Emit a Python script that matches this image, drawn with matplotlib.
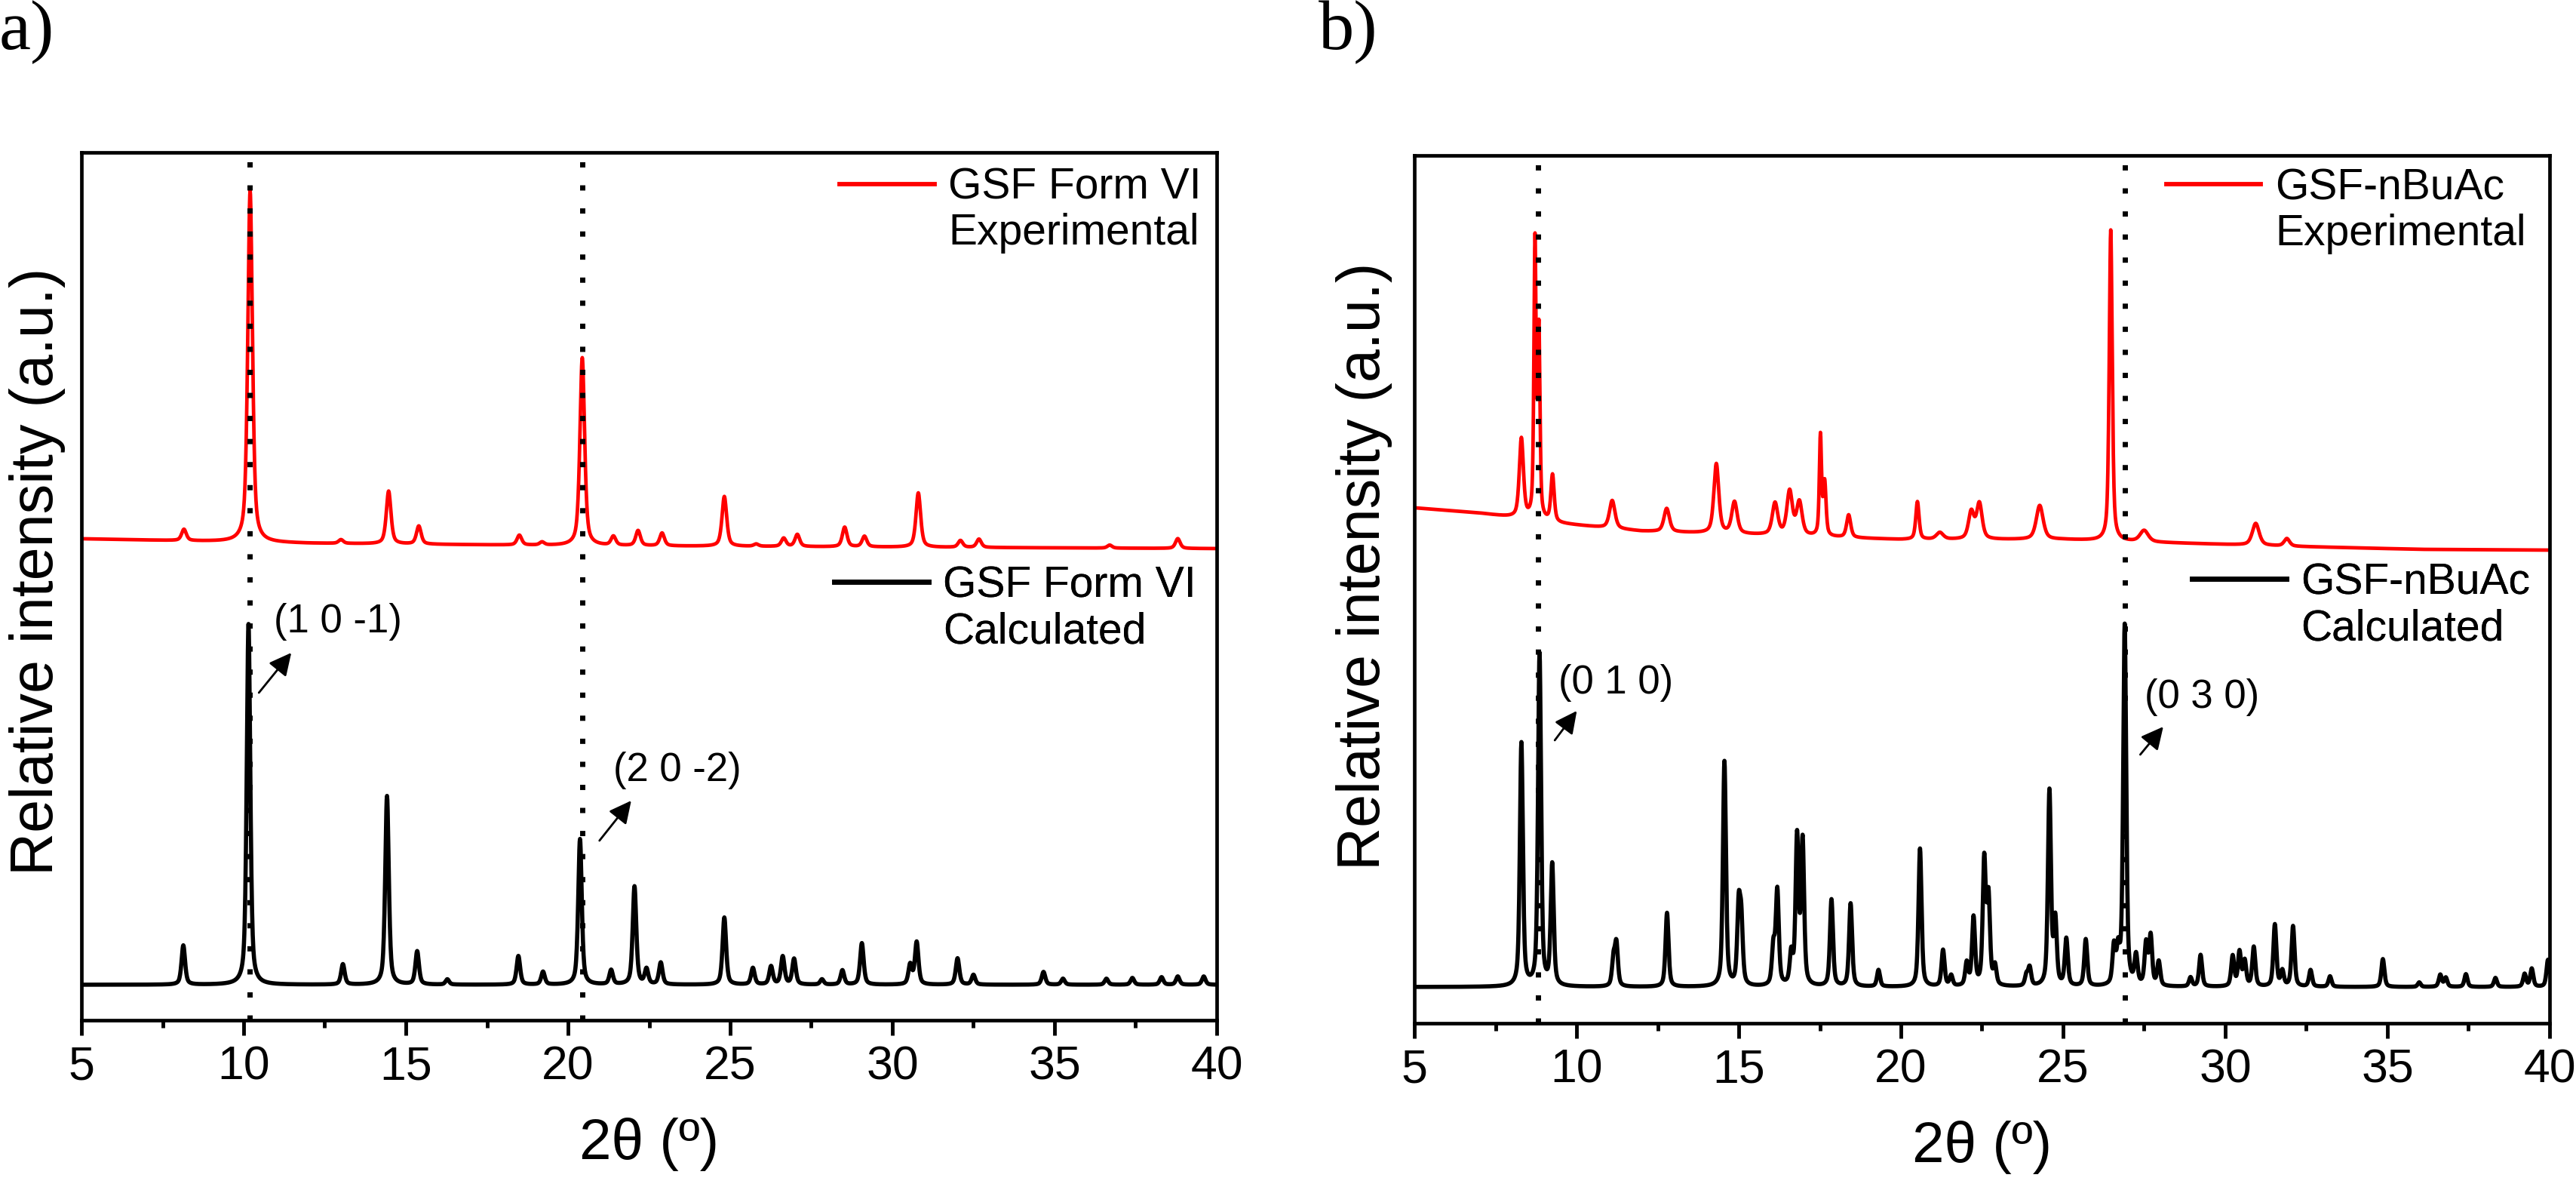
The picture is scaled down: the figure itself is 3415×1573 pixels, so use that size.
import numpy as np
import matplotlib
matplotlib.use("Agg")
import matplotlib.pyplot as plt
from matplotlib.lines import Line2D
from matplotlib.ticker import MultipleLocator

plt.rcParams['font.family'] = ['Liberation Sans', 'DejaVu Sans']

# ---------------------------------------------------------------- data
x_min, x_max = 5, 40
x_major_ticks = [5, 10, 15, 20, 25, 30, 35, 40]

# Panel a : GSF Form VI  (intensity in arbitrary units)
a_calc_baseline = 47
a_calc_pos = [8.14, 10.15, 13.06, 14.42, 15.35, 16.28, 18.47, 19.23, 20.37, 21.33,
              22.05, 22.42, 22.86, 24.82, 25.70, 26.26, 26.62, 26.97, 27.83, 28.46,
              29.06, 30.55, 30.75, 32.01, 32.50, 34.66, 35.26, 36.6, 37.4, 38.3,
              38.8, 39.6]
a_calc_int = [52, 478, 27, 250, 44, 7, 38, 17, 193, 19,
              130, 20, 29, 89, 22, 24, 37, 34, 7, 19,
              55, 26, 56, 35, 13, 17, 8, 8, 9, 10,
              11, 11]
a_calc_fwhm = 0.13

a_exp_bg_x = [5, 12, 20, 30, 40]
a_exp_bg_y = [638, 632, 629, 627, 625]
a_exp_pos = [8.16, 10.20, 13.0, 14.47, 15.40, 18.50, 19.2, 20.44, 21.40, 22.16,
             22.90, 24.82, 25.8, 26.65, 27.07, 28.53, 29.14, 30.80, 32.10, 32.67,
             36.7, 38.80]
a_exp_int = [15, 466, 5, 70, 24, 13, 4, 249, 12, 20,
             17, 66, 3, 11, 16, 26, 14, 72, 9, 11,
             4, 13]
a_exp_fwhm = 0.17

a_ref_lines = [10.19, 20.44]
a_hkl_labels = ["(1 0 -1)", "(2 0 -2)"]
a_hkl_text_xy = [(10.93, 528), (21.40, 331)]
a_hkl_arrow_from = [(10.47, 434), (20.97, 238)]
a_hkl_arrow_to = [(11.47, 487), (21.95, 291)]

# Panel b : GSF-nBuAc
b_calc_baseline = 48
b_calc_pos = [8.30, 8.86, 9.25, 11.14, 11.23, 12.79, 14.56, 15.00, 15.08, 16.07,
              16.19, 16.62, 16.80, 16.97, 17.86, 18.45, 19.31, 20.59, 21.30, 21.55,
              22.03, 22.24, 22.57, 22.70, 22.90, 23.87, 23.97, 24.58, 24.76, 25.10,
              25.70, 26.57, 26.70, 26.90, 27.25, 27.56, 27.70, 27.95, 28.93, 29.24,
              30.23, 30.44, 30.60, 30.88, 31.53, 31.76, 32.09, 32.63, 33.23, 34.86,
              35.98, 36.63, 36.80, 37.42, 38.33, 39.23, 39.45, 39.95]
b_calc_int = [322, 440, 160, 35, 55, 98, 298, 100, 80, 50,
              125, 40, 195, 190, 115, 110, 22, 183, 48, 14,
              30, 90, 165, 115, 25, 14, 24, 258, 85, 62,
              62, 50, 42, 478, 38, 55, 65, 32, 12, 42,
              40, 45, 33, 52, 82, 20, 80, 22, 14, 37,
              6, 16, 12, 17, 12, 17, 24, 36]
b_calc_fwhm = 0.11

b_exp_bg_x = [5, 7, 9.5, 12, 15, 20, 25, 28, 32, 36, 40]
b_exp_bg_y = [683, 676, 662, 652, 648, 641, 641, 637, 632, 628, 627]
b_exp_pos = [8.30, 8.72, 8.84, 9.26, 11.10, 12.78, 14.31, 14.87, 16.12, 16.57,
             16.87, 17.52, 17.65, 18.39, 20.51, 21.20, 22.17, 22.42, 24.28, 26.47,
             27.50, 30.94, 31.90]
b_exp_int = [105, 365, 245, 62, 37, 31, 92, 42, 42, 58,
             44, 132, 70, 30, 50, 9, 36, 47, 45, 412,
             15, 29, 10]
b_exp_fwhm = [0.15, 0.08, 0.08, 0.12, 0.20, 0.20, 0.18, 0.20, 0.20, 0.20,
              0.20, 0.08, 0.10, 0.15, 0.12, 0.25, 0.20, 0.20, 0.25, 0.11,
              0.30, 0.25, 0.20]

b_ref_lines = [8.81, 26.90]
b_hkl_labels = ["(0 1 0)", "(0 3 0)"]
b_hkl_text_xy = [(9.44, 451), (27.51, 432)]
b_hkl_arrow_from = [(9.33, 375), (27.38, 356)]
b_hkl_arrow_to = [(10.01, 414), (28.09, 393)]

y_top = 1150

# ---------------------------------------------------------------- profile
two_theta = np.linspace(x_min, x_max, 3501)


def pattern(bg, pos, inten, fwhm, eta=0.55):
    fw = np.broadcast_to(np.asarray(fwhm, dtype=float), (len(pos),))
    y = np.array(bg, dtype=float) * np.ones_like(two_theta)
    for c, h, w in zip(pos, inten, fw):
        u = (two_theta - c) / (w / 2.0)
        y += h * (eta / (1 + u ** 2) + (1 - eta) * np.exp(-np.log(2) * u ** 2))
    return y


a_exp = pattern(np.interp(two_theta, a_exp_bg_x, a_exp_bg_y), a_exp_pos, a_exp_int, a_exp_fwhm)
a_calc = pattern(a_calc_baseline, a_calc_pos, a_calc_int, a_calc_fwhm)
b_exp = pattern(np.interp(two_theta, b_exp_bg_x, b_exp_bg_y), b_exp_pos, b_exp_int, b_exp_fwhm)
b_calc = pattern(b_calc_baseline, b_calc_pos, b_calc_int, b_calc_fwhm)

# ---------------------------------------------------------------- figure
fig = plt.figure(figsize=(34.15, 15.73), dpi=100)
W, H = 3415, 1573

ax_a = fig.add_axes([108 / W, 1 - 1352 / H, 1505 / W, 1150 / H])
ax_b = fig.add_axes([1875 / W, 1 - 1356 / H, 1505 / W, 1150 / H])

RED = '#ff0000'
lw_exp = 3.4
lw_calc = 4.0


def style_axis(ax):
    ax.set_xlim(x_min, x_max)
    ax.set_ylim(0, y_top)
    ax.set_xticks(x_major_ticks)
    ax.xaxis.set_minor_locator(MultipleLocator(2.5))
    ax.set_yticks([])
    for s in ax.spines.values():
        s.set_linewidth(3.4)
    ax.tick_params(axis='x', which='major', direction='out', length=14.5, width=3.5,
                   labelsize=45, pad=9)
    ax.tick_params(axis='x', which='minor', direction='out', length=7.5, width=3.5)
    ax.set_xlabel("2θ (º)", fontsize=55)
    ax.xaxis.set_label_coords(0.5, -0.112)
    ax.set_ylabel("Relative intensity (a.u.)", fontsize=57)


def add_legend(ax, color, lw, name, kind, anchor):
    handles = [Line2D([], [], color=color, lw=lw + 0.8),
               Line2D([], [], color='none')]
    leg = ax.legend(handles, [name, kind], loc='upper left', bbox_to_anchor=anchor,
                    frameon=False, fontsize=41, handlelength=2.2, handletextpad=0.33,
                    labelspacing=0.12, borderpad=0, borderaxespad=0)
    ax.add_artist(leg)


def add_hkl(ax, labels, text_xy, arr_from, arr_to):
    for lab, txy, p0, p1 in zip(labels, text_xy, arr_from, arr_to):
        ax.text(txy[0], txy[1], lab, fontsize=38, ha='left', va='center')
        ax.annotate('', xy=p1, xytext=p0,
                    arrowprops=dict(arrowstyle='-|>', color='k', lw=2.0,
                                    mutation_scale=45, shrinkA=0, shrinkB=0))


# panel a
ax_a.plot(two_theta, a_exp, color=RED, lw=lw_exp, zorder=2)
ax_a.plot(two_theta, a_calc, color='k', lw=lw_calc, zorder=2)
for xv in a_ref_lines:
    ax_a.axvline(xv, color='k', lw=5, linestyle=(0, (1, 3.4)), zorder=3)
style_axis(ax_a)
ax_a.yaxis.set_label_coords(-0.014, 0.517)
add_legend(ax_a, RED, lw_exp, "GSF Form VI", "Experimental", (0.668, 0.983))
add_legend(ax_a, 'k', lw_calc, "GSF Form VI", "Calculated", (0.663, 0.524))
add_hkl(ax_a, a_hkl_labels, a_hkl_text_xy, a_hkl_arrow_from, a_hkl_arrow_to)

# panel b
ax_b.plot(two_theta, b_exp, color=RED, lw=lw_exp, zorder=2)
ax_b.plot(two_theta, b_calc, color='k', lw=lw_calc, zorder=2)
for xv in b_ref_lines:
    ax_b.axvline(xv, color='k', lw=5, linestyle=(0, (1, 3.4)), zorder=3)
style_axis(ax_b)
ax_b.yaxis.set_label_coords(-0.019, 0.527)
add_legend(ax_b, RED, lw_exp, "GSF-nBuAc", "Experimental", (0.6625, 0.986))
add_legend(ax_b, 'k', lw_calc, "GSF-nBuAc", "Calculated", (0.685, 0.531))
add_hkl(ax_b, b_hkl_labels, b_hkl_text_xy, b_hkl_arrow_from, b_hkl_arrow_to)

# panel letters
fig.text(-1 / W, 1 - 65 / H, "a)", fontsize=68, family=['Liberation Serif', 'DejaVu Serif'],
         ha='left', va='baseline')
fig.text(1748 / W, 1 - 65 / H, "b)", fontsize=68, family=['Liberation Serif', 'DejaVu Serif'],
         ha='left', va='baseline')

fig.savefig("out.png", dpi=100)
